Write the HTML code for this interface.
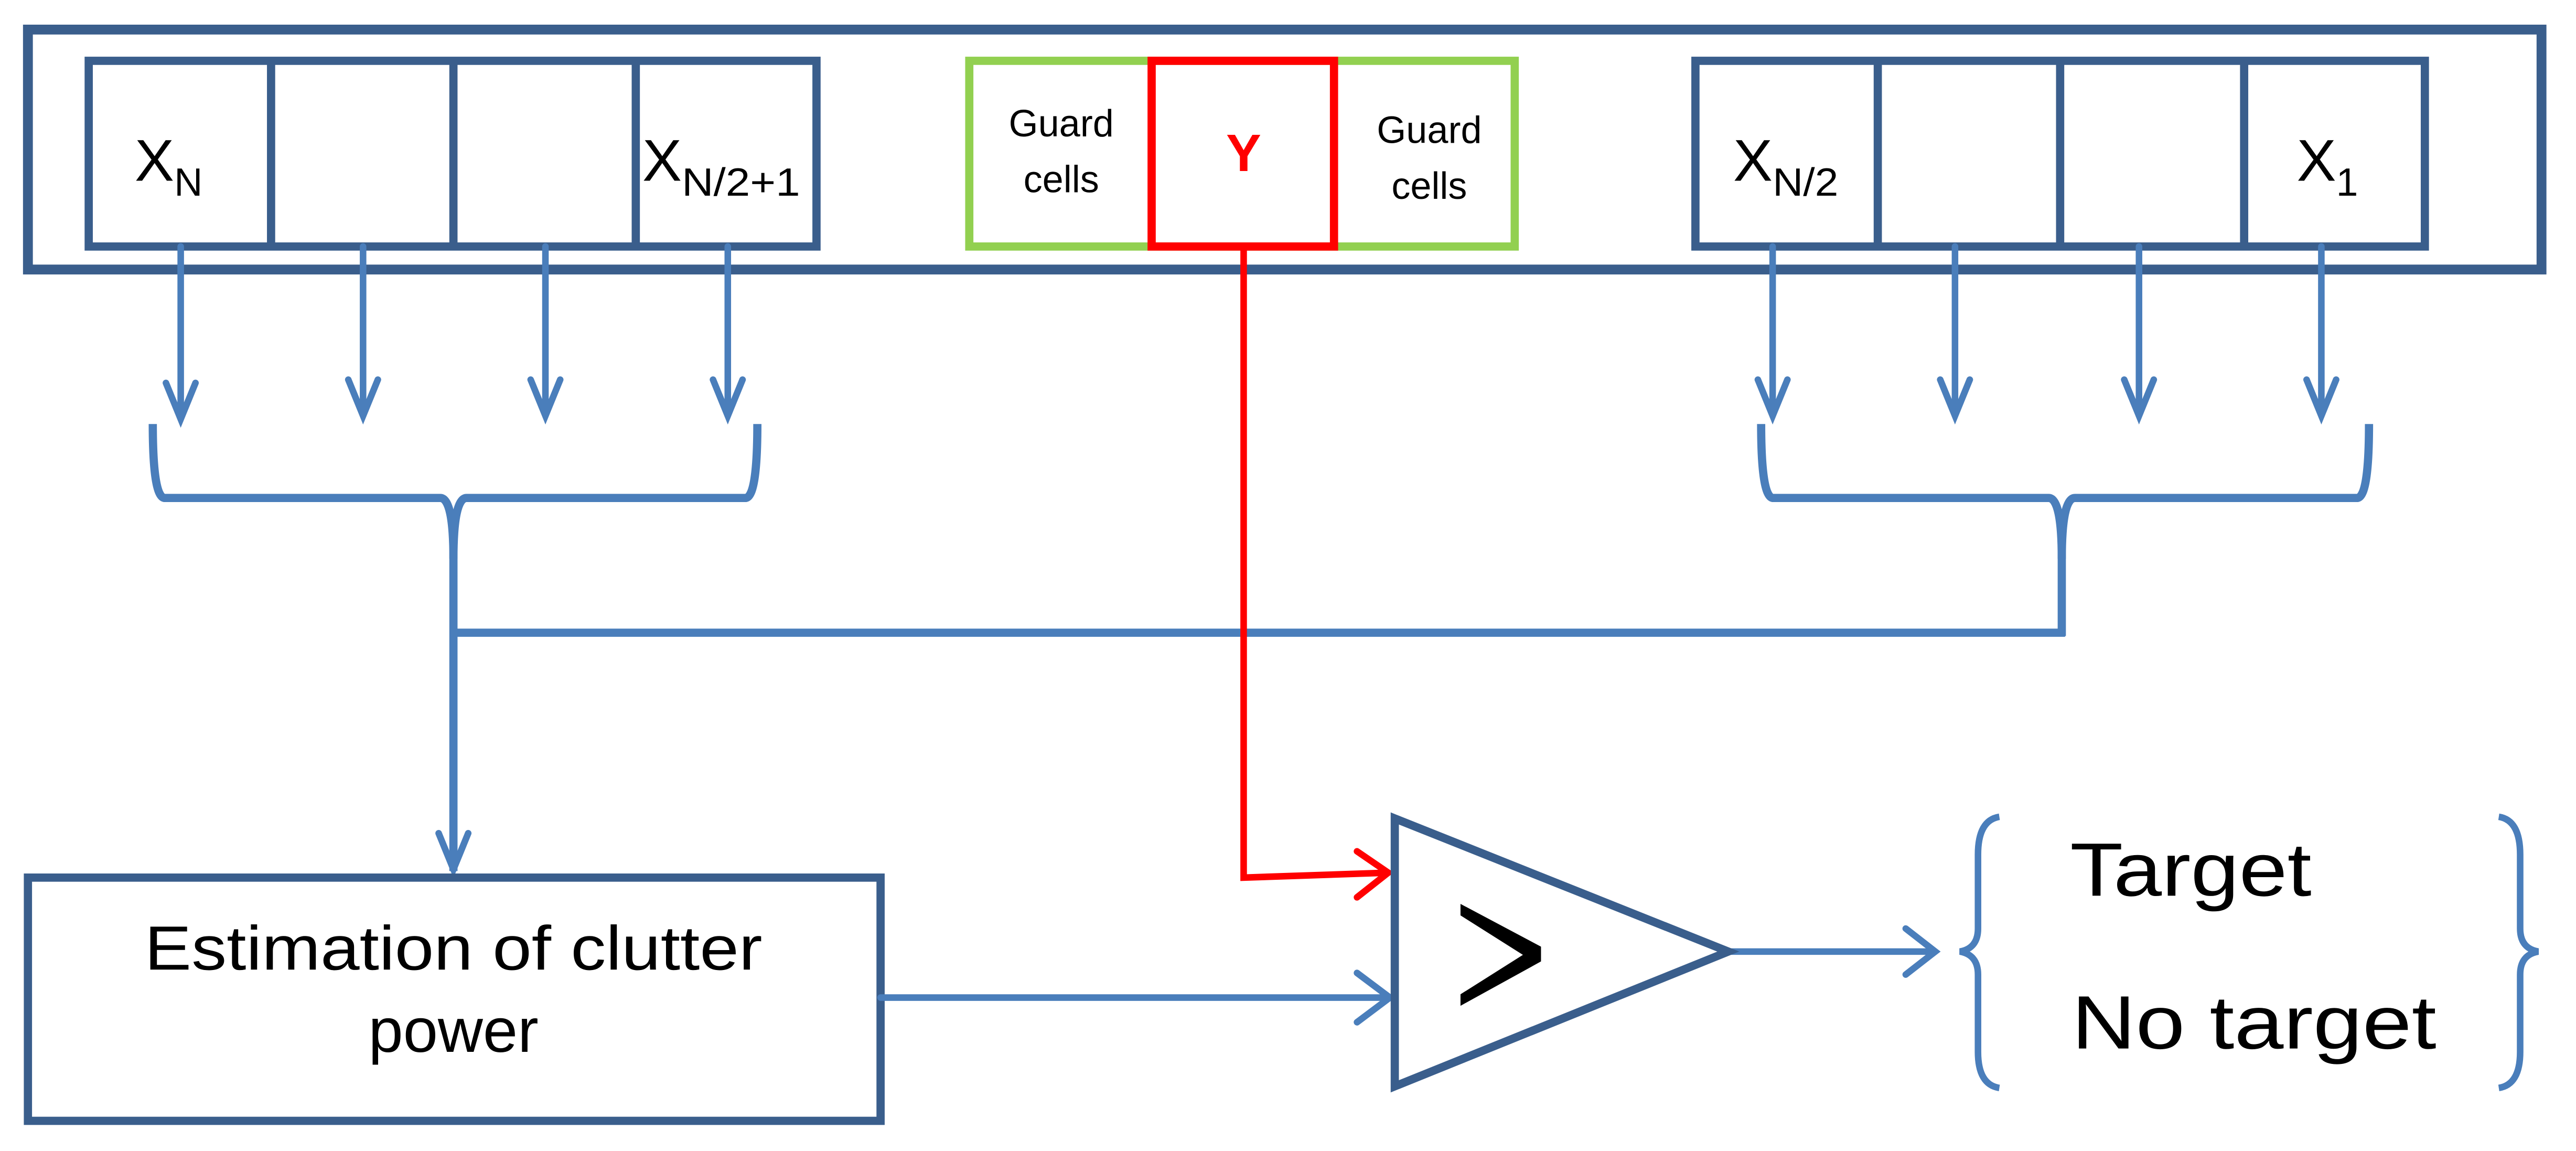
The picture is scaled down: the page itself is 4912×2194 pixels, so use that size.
<!DOCTYPE html>
<html><head><meta charset="utf-8"><style>html,body{margin:0;padding:0;background:#fff}svg{display:block}</style></head>
<body>
<svg width="4912" height="2194" viewBox="0 0 1568 700.35" preserveAspectRatio="none" xmlns="http://www.w3.org/2000/svg" font-family="Liberation Sans, sans-serif">
<rect x="17" y="18" width="1530" height="146" fill="none" stroke="#3a5e8c" stroke-width="6"/>
<g fill="none" stroke="#3a5e8c" stroke-width="5">
<rect x="54" y="37" width="443" height="113"/>
<line x1="165" y1="37" x2="165" y2="150"/><line x1="276" y1="37" x2="276" y2="150"/><line x1="387" y1="37" x2="387" y2="150"/>
<rect x="1032" y="37" width="444" height="113"/>
<line x1="1143" y1="37" x2="1143" y2="150"/><line x1="1254" y1="37" x2="1254" y2="150"/><line x1="1366" y1="37" x2="1366" y2="150"/>
</g>
<rect x="590" y="37" width="332" height="113" fill="none" stroke="#92d050" stroke-width="5"/>
<rect x="701" y="37" width="111" height="113" fill="none" stroke="#ff0000" stroke-width="5"/>
<g fill="#000" font-size="36">
<text x="82" y="110">X<tspan font-size="24" dy="9">N</tspan></text>
<text x="391" y="110">X<tspan font-size="24" dy="9" textLength="72" lengthAdjust="spacingAndGlyphs">N/2+1</tspan></text>
<text x="1055" y="110">X<tspan font-size="24" dy="9" textLength="40" lengthAdjust="spacingAndGlyphs">N/2</tspan></text>
<text x="1398" y="110">X<tspan font-size="24" dy="9">1</tspan></text>
</g>
<g font-size="23" text-anchor="middle" fill="#000">
<text x="646" y="83">Guard</text><text x="646" y="117">cells</text>
<text x="870" y="87">Guard</text><text x="870" y="121">cells</text>
</g>
<text x="757" y="104" font-size="32" font-weight="bold" fill="#ff0000" text-anchor="middle">Y</text>
<g stroke="#4a7ebb" stroke-width="4" fill="none" stroke-linecap="round">
<path d="M110 150V255M101 233L110 255L119 233"/>
<path d="M221 150V253M212 231L221 253L230 231"/>
<path d="M332 150V253M323 231L332 253L341 231"/>
<path d="M443 150V253M434 231L443 253L452 231"/>
<path d="M1079 150V253M1070 231L1079 253L1088 231"/>
<path d="M1190 150V253M1181 231L1190 253L1199 231"/>
<path d="M1302 150V253M1293 231L1302 253L1311 231"/>
<path d="M1413 150V253M1404 231L1413 253L1422 231"/>
</g>
<g stroke="#4a7ebb" stroke-width="5" fill="none">
<path d="M93 258 Q93 302 100 303 H268 Q276 303 276 340 V530"/>
<path d="M461 258 Q461 302 454 303 H284 Q276 303 276 340"/>
<path d="M1072 258 Q1072 302 1079 303 H1247 Q1255 303 1255 340 V387"/>
<path d="M1442 258 Q1442 302 1435 303 H1263 Q1255 303 1255 340"/>
<line x1="276" y1="385" x2="1257" y2="385"/>
</g>
<path d="M267 507L276 529L285 507" stroke="#4a7ebb" stroke-width="4" fill="none" stroke-linecap="round"/>
<rect x="17" y="534" width="519" height="148" fill="none" stroke="#3a5e8c" stroke-width="5"/>
<g font-size="38" text-anchor="middle" fill="#000">
<text x="276" y="590" textLength="376" lengthAdjust="spacingAndGlyphs">Estimation of clutter</text>
<text x="276" y="640">power</text>
</g>
<g stroke="#4a7ebb" stroke-width="4" fill="none" stroke-linecap="round">
<path d="M536 607H846M826 592L846 607L826 622"/>
<path d="M1052 579H1178M1160 565L1178 579L1160 593"/>
</g>
<g stroke="#ff0000" stroke-width="4" fill="none" stroke-linecap="round">
<path d="M757 150V534L845 531"/>
<path d="M826 518L845 531L826 546"/>
</g>
<path d="M849 498L1052 579L849 661Z" fill="none" stroke="#3a5e8c" stroke-width="5" stroke-linejoin="miter"/>
<path d="M889 557L927 581L889 605V612L938 585V576L889 550Z" fill="#000"/>
<g stroke="#4a7ebb" stroke-width="4" fill="none">
<path d="M1217 497Q1204 499 1204 520V565Q1204 577 1193 579Q1204 581 1204 593V640Q1204 660 1217 662"/>
<path d="M1521 497Q1534 499 1534 520V565Q1534 577 1545 579Q1534 581 1534 593V640Q1534 660 1521 662"/>
</g>
<g font-size="46" fill="#000">
<text x="1260" y="545" textLength="147" lengthAdjust="spacingAndGlyphs">Target</text>
<text x="1261" y="638" textLength="222" lengthAdjust="spacingAndGlyphs">No target</text>
</g>
</svg>
</body></html>
